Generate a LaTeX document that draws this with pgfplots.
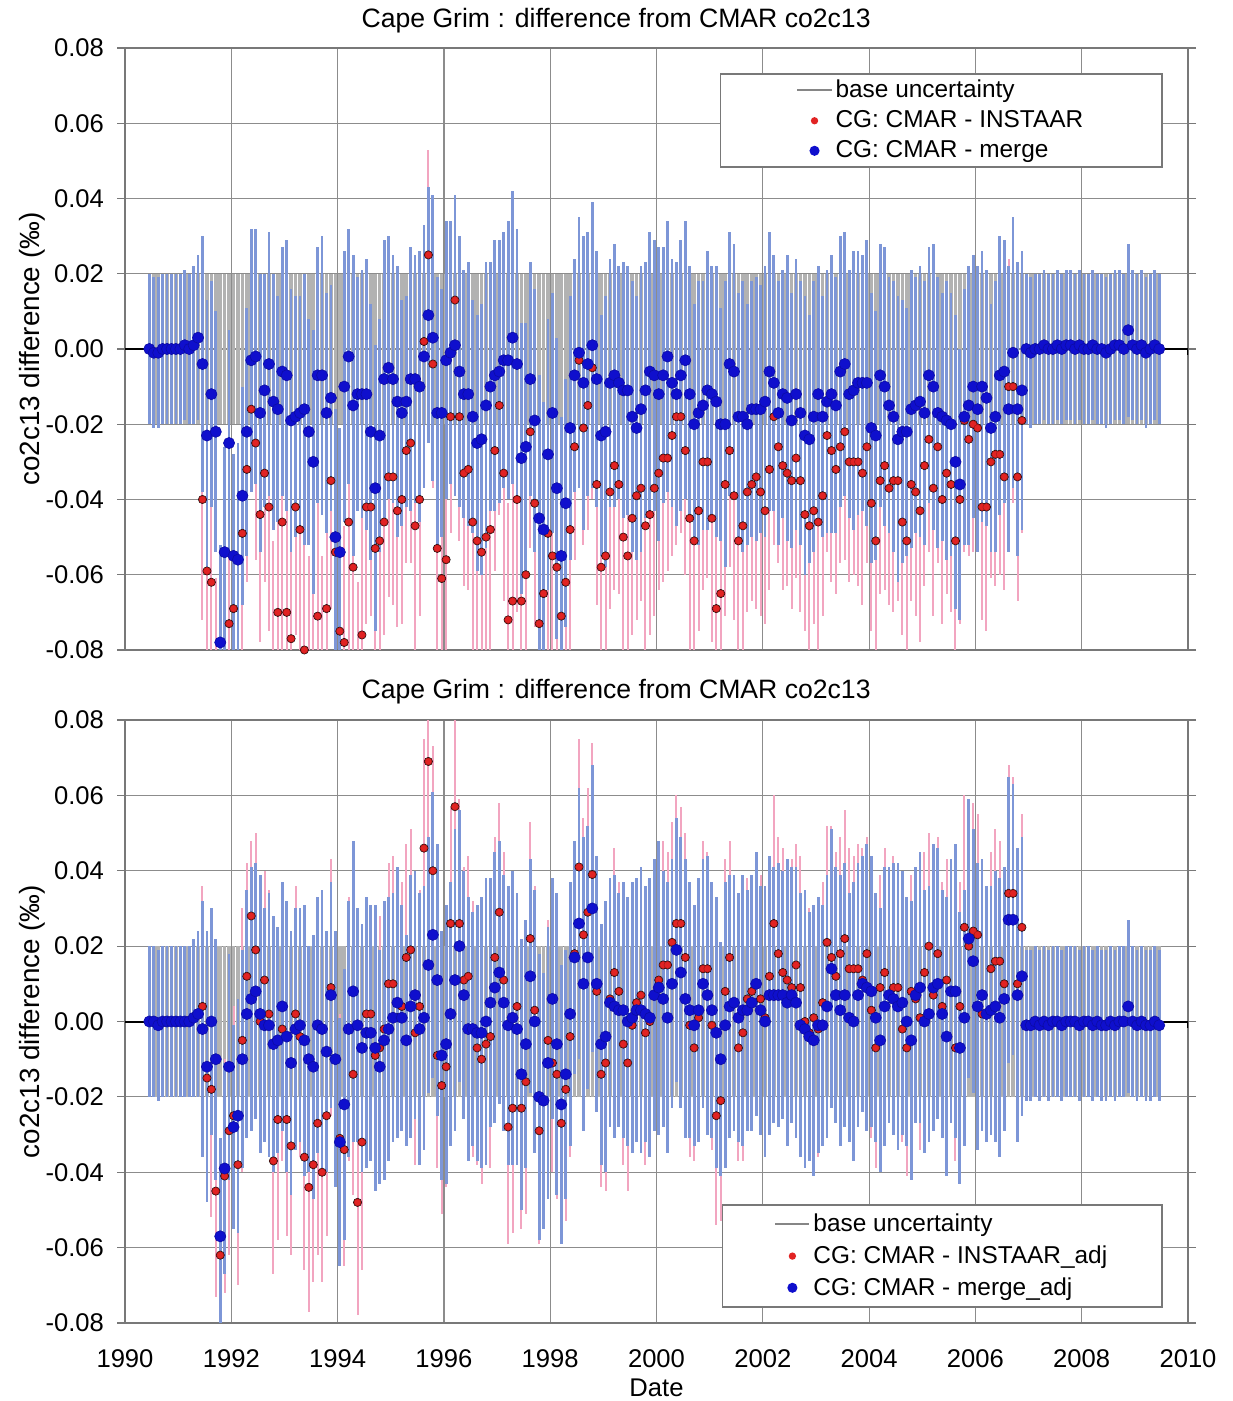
\documentclass[border=0pt]{standalone}
\usepackage{fontspec}
\setmainfont{Liberation Sans}
\usepackage{pgfplots}
\usepackage{pgfplotstable}
\pgfplotsset{compat=1.18}

\definecolor{basegray}{RGB}{178,178,178}
\definecolor{bluebar}{RGB}{125,150,215}
\definecolor{pinkbar}{RGB}{242,165,192}
\definecolor{bluemark}{RGB}{15,15,205}
\definecolor{redmark}{RGB}{225,35,35}
\definecolor{gridgray}{RGB}{140,140,140}
\definecolor{framegray}{RGB}{120,120,120}

\newcommand\tf{\fontsize{12.8}{15}\selectfont}
\newcommand\ttf{\fontsize{13.3}{15}\selectfont}
\newcommand\yf{\fontsize{13.9}{16}\selectfont}
\newcommand\lf{\fontsize{12.2}{14}\selectfont}

\pgfplotstableread{
x u d b1 r1 b2 r2 eb er
1990.458 0.02 -0.02 0.000 nan 0.000 nan 0.020 0
1990.542 0.02 -0.02 -0.001 nan 0.000 nan 0.020 0
1990.625 0.02 -0.02 -0.001 nan -0.001 nan 0.020 0
1990.708 0.02 -0.02 0.000 nan 0.000 nan 0.020 0
1990.792 0.02 -0.02 0.000 nan 0.000 nan 0.020 0
1990.875 0.02 -0.02 0.000 nan 0.000 nan 0.020 0
1990.958 0.02 -0.02 0.000 nan 0.000 nan 0.020 0
1991.042 0.02 -0.02 0.000 nan 0.000 nan 0.020 0
1991.125 0.02 -0.02 0.001 nan 0.000 nan 0.020 0
1991.208 0.02 -0.02 0.000 nan 0.000 nan 0.020 0
1991.292 0.02 -0.02 0.001 nan 0.001 nan 0.021 0
1991.375 0.02 -0.02 0.003 nan 0.002 nan 0.022 0
1991.458 0.02 -0.02 -0.004 -0.040 -0.002 0.004 0.034 0.032
1991.542 0.02 -0.02 -0.023 -0.059 -0.012 -0.015 0.036 0.030
1991.625 0.02 -0.02 -0.012 -0.062 0.000 -0.018 0.030 0.034
1991.708 0.02 -0.02 -0.022 -0.089 -0.010 -0.045 0.032 0.028
1991.792 0.02 -0.02 -0.078 -0.106 -0.057 -0.062 0.026 0.030
1991.875 0.02 -0.02 -0.054 -0.085 -0.039 -0.041 0.028 0.031
1991.958 0.02 -0.02 -0.025 -0.073 -0.012 -0.029 0.030 0.033
1992.042 0.02 -0.02 -0.055 -0.069 -0.028 -0.025 0.027 0.029
1992.125 0.02 -0.02 -0.056 -0.082 -0.025 -0.038 0.031 0.032
1992.208 0.02 -0.02 -0.039 -0.049 -0.010 -0.005 0.029 0.035
1992.292 0.02 -0.02 -0.022 -0.032 0.002 0.012 0.033 0.030
1992.375 0.02 -0.02 -0.003 -0.016 0.006 0.028 0.035 0.020
1992.458 0.02 -0.02 -0.002 -0.025 0.008 0.019 0.034 0.031
1992.542 0.02 -0.02 -0.017 -0.044 0.002 0.000 0.037 0.034
1992.625 0.02 -0.02 -0.011 -0.033 -0.001 0.011 0.031 0.029
1992.708 0.02 -0.02 -0.004 -0.042 -0.001 0.002 0.035 0.033
1992.792 0.02 -0.02 -0.014 -0.081 -0.006 -0.037 0.034 0.030
1992.875 0.02 -0.02 -0.016 -0.070 -0.005 -0.026 0.030 0.032
1992.958 0.02 -0.02 -0.006 -0.046 0.004 -0.002 0.033 0.035
1993.042 0.02 -0.02 -0.007 -0.070 -0.004 -0.026 0.036 0.031
1993.125 0.02 -0.02 -0.019 -0.077 -0.011 -0.033 0.035 0.029
1993.208 0.02 -0.02 -0.018 -0.042 -0.002 0.002 0.032 0.034
1993.292 0.02 -0.02 -0.017 -0.048 -0.001 -0.004 0.031 0.032
1993.375 0.02 -0.02 -0.016 -0.080 -0.005 -0.036 0.036 0.030
1993.458 0.02 -0.02 -0.022 -0.088 -0.010 -0.044 0.030 0.033
1993.542 0.02 -0.02 -0.030 -0.082 -0.012 -0.038 0.035 0.031
1993.625 0.02 -0.02 -0.007 -0.071 -0.001 -0.027 0.034 0.035
1993.708 0.02 -0.02 -0.007 -0.084 -0.002 -0.040 0.037 0.029
1993.792 0.02 -0.02 -0.017 -0.069 -0.008 -0.025 0.032 0.032
1993.875 0.02 -0.02 -0.013 -0.035 0.007 0.009 0.030 0.034
1993.958 0.02 -0.02 -0.050 -0.054 -0.010 -0.010 0.034 0.030
1994.042 0.02 -0.02 -0.054 -0.075 -0.032 -0.031 0.033 0.033
1994.125 0.02 -0.02 -0.010 -0.078 -0.022 -0.034 0.036 0.031
1994.208 0.02 -0.02 -0.002 -0.046 -0.002 -0.002 0.034 0.035
1994.292 0.02 -0.02 -0.015 -0.058 0.008 -0.014 0.040 0.032
1994.375 0.02 -0.02 -0.012 -0.092 -0.001 -0.048 0.031 0.030
1994.458 0.02 -0.02 -0.012 -0.076 -0.007 -0.032 0.033 0.034
1994.542 0.02 -0.02 -0.012 -0.042 -0.003 0.002 0.036 0.031
1994.625 0.02 -0.02 -0.022 -0.042 -0.003 0.002 0.034 0.029
1994.708 0.02 -0.02 -0.037 -0.053 -0.007 -0.009 0.038 0.033
1994.792 0.02 -0.02 -0.023 -0.051 -0.012 -0.007 0.031 0.035
1994.875 0.02 -0.02 -0.008 -0.046 -0.005 -0.002 0.037 0.030
1994.958 0.02 -0.02 -0.005 -0.034 -0.002 0.010 0.035 0.032
1995.042 0.02 -0.02 -0.008 -0.034 0.001 0.010 0.033 0.034
1995.125 0.02 -0.02 -0.014 -0.043 0.005 0.001 0.036 0.031
1995.208 0.02 -0.02 -0.017 -0.040 0.001 0.004 0.030 0.033
1995.292 0.02 -0.02 -0.014 -0.027 -0.005 0.017 0.028 0.030
1995.375 0.02 -0.02 -0.008 -0.025 0.004 0.019 0.035 0.032
1995.458 0.02 -0.02 -0.008 -0.047 0.007 -0.003 0.033 0.035
1995.542 0.02 -0.02 -0.010 -0.040 -0.002 0.004 0.036 0.031
1995.625 0.02 -0.02 -0.002 0.002 0.001 0.046 0.035 0.029
1995.708 0.02 -0.02 0.009 0.025 0.015 0.069 0.034 0.028
1995.792 0.02 -0.02 0.003 -0.004 0.023 0.040 0.038 0.033
1995.875 0.02 -0.02 -0.017 -0.053 0.011 -0.009 0.036 0.030
1995.958 0.02 -0.02 -0.017 -0.061 -0.009 -0.017 0.033 0.034
1996.042 0.02 -0.02 -0.003 -0.056 -0.006 -0.012 0.037 0.032
1996.125 0.02 -0.02 -0.001 -0.018 0.002 0.026 0.035 0.031
1996.208 0.02 -0.02 0.001 0.013 0.011 0.057 0.040 0.026
1996.292 0.02 -0.02 -0.006 -0.018 0.020 0.026 0.036 0.033
1996.375 0.02 -0.02 -0.012 -0.033 0.007 0.011 0.033 0.030
1996.458 0.02 -0.02 -0.012 -0.032 -0.002 0.012 0.035 0.032
1996.542 0.02 -0.02 -0.018 -0.046 -0.002 -0.002 0.031 0.034
1996.625 0.02 -0.02 -0.025 -0.051 -0.003 -0.007 0.034 0.031
1996.708 0.02 -0.02 -0.024 -0.054 -0.003 -0.010 0.036 0.033
1996.792 0.02 -0.02 -0.015 -0.050 0.000 -0.006 0.038 0.030
1996.875 0.02 -0.02 -0.010 -0.048 0.005 -0.004 0.033 0.035
1996.958 0.02 -0.02 -0.007 -0.027 0.009 0.017 0.036 0.032
1997.042 0.02 -0.02 -0.006 -0.015 0.013 0.029 0.035 0.029
1997.125 0.02 -0.02 -0.003 -0.033 0.005 0.011 0.034 0.034
1997.208 0.02 -0.02 -0.003 -0.072 -0.001 -0.028 0.037 0.031
1997.292 0.02 -0.02 0.003 -0.067 0.001 -0.023 0.039 0.033
1997.375 0.02 -0.02 -0.004 -0.040 -0.002 0.004 0.036 0.030
1997.458 0.02 -0.02 -0.029 -0.067 -0.014 -0.023 0.036 0.032
1997.542 0.02 -0.02 -0.026 -0.060 -0.006 -0.016 0.033 0.035
1997.625 0.02 -0.02 -0.008 -0.022 0.012 0.022 0.031 0.031
1997.708 0.02 -0.02 -0.019 -0.041 0.000 0.003 0.035 0.033
1997.792 0.02 -0.02 -0.045 -0.073 -0.020 -0.029 0.038 0.030
1997.875 0.02 -0.02 -0.048 -0.065 -0.021 -0.021 0.034 0.034
1997.958 0.02 -0.02 -0.028 -0.049 -0.011 -0.005 0.036 0.032
1998.042 0.02 -0.02 -0.017 -0.055 0.006 -0.011 0.032 0.029
1998.125 0.02 -0.02 -0.037 -0.058 -0.006 -0.014 0.040 0.033
1998.208 0.02 -0.02 -0.055 -0.071 -0.022 -0.027 0.037 0.031
1998.292 0.02 -0.02 -0.041 -0.062 -0.014 -0.018 0.033 0.035
1998.375 0.02 -0.02 -0.021 -0.048 0.002 -0.004 0.035 0.032
1998.458 0.02 -0.02 -0.007 -0.026 0.017 0.018 0.031 0.030
1998.542 0.02 -0.02 -0.001 -0.003 0.026 0.041 0.036 0.034
1998.625 0.02 -0.02 -0.009 -0.021 0.010 0.023 0.039 0.031
1998.708 0.02 -0.02 -0.004 -0.015 0.017 0.029 0.035 0.033
1998.792 0.02 -0.02 0.001 -0.005 0.030 0.039 0.038 0.035
1998.875 0.02 -0.02 -0.008 -0.036 0.010 0.008 0.034 0.032
1998.958 0.02 -0.02 -0.023 -0.058 -0.006 -0.014 0.032 0.030
1999.042 0.02 -0.02 -0.022 -0.055 -0.004 -0.011 0.036 0.034
1999.125 0.02 -0.02 -0.009 -0.038 0.005 0.006 0.033 0.031
1999.208 0.02 -0.02 -0.007 -0.031 0.004 0.013 0.035 0.033
1999.292 0.02 -0.02 -0.009 -0.036 0.003 0.008 0.031 0.029
1999.375 0.02 -0.02 -0.011 -0.050 0.003 -0.006 0.034 0.032
1999.458 0.02 -0.02 -0.011 -0.055 0.000 -0.011 0.033 0.034
1999.542 0.02 -0.02 -0.018 -0.045 0.001 -0.001 0.036 0.031
1999.625 0.02 -0.02 -0.021 -0.039 0.003 0.005 0.035 0.033
1999.708 0.02 -0.02 -0.016 -0.037 0.003 0.007 0.038 0.030
1999.792 0.02 -0.02 -0.011 -0.047 0.002 -0.003 0.034 0.035
1999.875 0.02 -0.02 -0.006 -0.044 0.001 0.000 0.037 0.032
1999.958 0.02 -0.02 -0.007 -0.037 0.007 0.007 0.036 0.034
2000.042 0.02 -0.02 -0.012 -0.033 0.009 0.011 0.039 0.031
2000.125 0.02 -0.02 -0.007 -0.029 0.006 0.015 0.034 0.033
2000.208 0.02 -0.02 -0.002 -0.029 0.001 0.015 0.036 0.030
2000.292 0.02 -0.02 -0.009 -0.023 0.010 0.021 0.033 0.032
2000.375 0.02 -0.02 -0.012 -0.018 0.019 0.026 0.035 0.034
2000.458 0.02 -0.02 -0.007 -0.018 0.013 0.026 0.036 0.031
2000.542 0.02 -0.02 -0.003 -0.027 0.006 0.017 0.037 0.033
2000.625 0.02 -0.02 -0.012 -0.045 0.003 -0.001 0.034 0.035
2000.708 0.02 -0.02 -0.020 -0.051 -0.001 -0.007 0.032 0.030
2000.792 0.02 -0.02 -0.017 -0.043 0.003 0.001 0.035 0.032
2000.875 0.02 -0.02 -0.015 -0.030 0.010 0.014 0.033 0.034
2000.958 0.02 -0.02 -0.011 -0.030 0.007 0.014 0.037 0.031
2001.042 0.02 -0.02 -0.012 -0.045 0.003 -0.001 0.034 0.033
2001.125 0.02 -0.02 -0.014 -0.069 -0.003 -0.025 0.036 0.029
2001.208 0.02 -0.02 -0.020 -0.065 -0.010 -0.021 0.031 0.032
2001.292 0.02 -0.02 -0.020 -0.036 -0.001 0.008 0.038 0.035
2001.375 0.02 -0.02 -0.004 -0.027 0.004 0.017 0.035 0.031
2001.458 0.02 -0.02 -0.006 -0.039 0.005 0.005 0.034 0.033
2001.542 0.02 -0.02 -0.018 -0.051 0.001 -0.007 0.033 0.030
2001.625 0.02 -0.02 -0.018 -0.047 0.003 -0.003 0.036 0.034
2001.708 0.02 -0.02 -0.020 -0.038 0.003 0.006 0.032 0.032
2001.792 0.02 -0.02 -0.016 -0.036 0.005 0.008 0.034 0.031
2001.875 0.02 -0.02 -0.016 -0.034 0.010 0.010 0.035 0.035
2001.958 0.02 -0.02 -0.016 -0.038 0.003 0.006 0.033 0.033
2002.042 0.02 -0.02 -0.014 -0.043 0.000 0.001 0.036 0.030
2002.125 0.02 -0.02 -0.006 -0.032 0.007 0.012 0.037 0.032
2002.208 0.02 -0.02 -0.009 -0.018 0.007 0.026 0.034 0.034
2002.292 0.02 -0.02 -0.017 -0.026 0.007 0.018 0.035 0.031
2002.375 0.02 -0.02 -0.012 -0.031 0.007 0.013 0.033 0.033
2002.458 0.02 -0.02 -0.013 -0.033 0.005 0.011 0.038 0.030
2002.542 0.02 -0.02 -0.019 -0.035 0.007 0.009 0.034 0.034
2002.625 0.02 -0.02 -0.012 -0.029 0.005 0.015 0.036 0.032
2002.708 0.02 -0.02 -0.017 -0.035 -0.001 0.009 0.035 0.035
2002.792 0.02 -0.02 -0.023 -0.044 -0.002 0.000 0.037 0.031
2002.875 0.02 -0.02 -0.024 -0.047 -0.004 -0.003 0.033 0.033
2002.958 0.02 -0.02 -0.018 -0.043 -0.005 0.001 0.036 0.030
2003.042 0.02 -0.02 -0.012 -0.046 -0.001 -0.002 0.034 0.034
2003.125 0.02 -0.02 -0.018 -0.039 -0.001 0.005 0.032 0.032
2003.208 0.02 -0.02 -0.014 -0.023 0.004 0.021 0.035 0.031
2003.292 0.02 -0.02 -0.012 -0.027 0.014 0.017 0.037 0.035
2003.375 0.02 -0.02 -0.015 -0.032 0.007 0.012 0.034 0.033
2003.458 0.02 -0.02 -0.006 -0.026 0.003 0.018 0.036 0.031
2003.542 0.02 -0.02 -0.004 -0.022 0.007 0.022 0.035 0.034
2003.625 0.02 -0.02 -0.012 -0.030 0.001 0.014 0.033 0.032
2003.708 0.02 -0.02 -0.011 -0.030 0.000 0.014 0.037 0.030
2003.792 0.02 -0.02 -0.009 -0.030 0.007 0.014 0.035 0.033
2003.875 0.02 -0.02 -0.009 -0.033 0.010 0.011 0.034 0.035
2003.958 0.02 -0.02 -0.009 -0.026 0.009 0.018 0.038 0.031
2004.042 0.02 -0.02 -0.021 -0.041 0.008 0.003 0.036 0.034
2004.125 0.02 -0.02 -0.023 -0.051 0.001 -0.007 0.033 0.032
2004.208 0.02 -0.02 -0.007 -0.035 -0.005 0.009 0.035 0.030
2004.292 0.02 -0.02 -0.010 -0.031 0.004 0.013 0.037 0.033
2004.375 0.02 -0.02 -0.015 -0.037 0.007 0.007 0.034 0.031
2004.458 0.02 -0.02 -0.018 -0.035 0.006 0.009 0.036 0.035
2004.542 0.02 -0.02 -0.024 -0.035 0.004 0.009 0.038 0.032
2004.625 0.02 -0.02 -0.022 -0.046 0.005 -0.002 0.035 0.030
2004.708 0.02 -0.02 -0.022 -0.051 0.000 -0.007 0.033 0.034
2004.792 0.02 -0.02 -0.016 -0.036 -0.005 0.008 0.037 0.031
2004.875 0.02 -0.02 -0.015 -0.038 0.007 0.006 0.034 0.033
2004.958 0.02 -0.02 -0.014 -0.043 0.009 0.001 0.036 0.035
2005.042 0.02 -0.02 -0.017 -0.031 0.000 0.013 0.035 0.032
2005.125 0.02 -0.02 -0.007 -0.024 0.002 0.020 0.034 0.030
2005.208 0.02 -0.02 -0.010 -0.037 0.009 0.007 0.038 0.034
2005.292 0.02 -0.02 -0.017 -0.026 0.010 0.018 0.036 0.031
2005.375 0.02 -0.02 -0.018 -0.040 0.002 0.004 0.033 0.033
2005.458 0.02 -0.02 -0.019 -0.033 -0.004 0.011 0.037 0.032
2005.542 0.02 -0.02 -0.020 -0.036 0.008 0.008 0.035 0.034
2005.625 0.02 -0.02 -0.030 -0.051 0.008 -0.007 0.039 0.030
2005.708 0.02 -0.02 -0.036 -0.040 -0.007 0.004 0.036 0.033
2005.792 0.02 -0.02 -0.018 -0.019 0.001 0.025 0.034 0.035
2005.875 0.02 -0.02 -0.015 -0.024 0.022 0.020 0.037 0.031
2005.958 0.02 -0.02 -0.010 -0.020 0.016 0.024 0.035 0.034
2006.042 0.02 -0.02 -0.016 -0.021 0.004 0.023 0.038 0.032
2006.125 0.02 -0.02 -0.010 -0.042 0.007 0.002 0.036 0.030
2006.208 0.02 -0.02 -0.013 -0.042 0.002 0.002 0.034 0.033
2006.292 0.02 -0.02 -0.021 -0.030 0.003 0.014 0.033 0.031
2006.375 0.02 -0.02 -0.018 -0.028 0.004 0.016 0.036 0.035
2006.458 0.02 -0.02 -0.007 -0.028 0.001 0.016 0.037 0.032
2006.542 0.02 -0.02 -0.006 -0.034 0.006 0.010 0.035 0.030
2006.625 0.02 -0.02 -0.016 -0.010 0.027 0.034 0.038 0.034
2006.708 0.02 -0.02 -0.001 -0.010 0.027 0.034 0.036 0.031
2006.792 0.02 -0.02 -0.016 -0.034 0.007 0.010 0.039 0.033
2006.875 0.02 -0.02 -0.011 -0.019 0.012 0.025 0.037 0.030
2006.958 0.02 -0.02 0.000 nan -0.001 nan 0.020 0
2007.042 0.02 -0.02 -0.001 nan -0.001 nan 0.020 0
2007.125 0.02 -0.02 0.000 nan 0.000 nan 0.020 0
2007.208 0.02 -0.02 0.000 nan -0.001 nan 0.020 0
2007.292 0.02 -0.02 0.001 nan 0.000 nan 0.020 0
2007.375 0.02 -0.02 0.000 nan -0.001 nan 0.020 0
2007.458 0.02 -0.02 0.000 nan 0.000 nan 0.020 0
2007.542 0.02 -0.02 0.001 nan 0.000 nan 0.020 0
2007.625 0.02 -0.02 0.000 nan -0.001 nan 0.020 0
2007.708 0.02 -0.02 0.001 nan 0.000 nan 0.020 0
2007.792 0.02 -0.02 0.001 nan 0.000 nan 0.020 0
2007.875 0.02 -0.02 0.000 nan 0.000 nan 0.020 0
2007.958 0.02 -0.02 0.001 nan -0.001 nan 0.020 0
2008.042 0.02 -0.02 0.000 nan 0.000 nan 0.020 0
2008.125 0.02 -0.02 0.000 nan 0.000 nan 0.020 0
2008.208 0.02 -0.02 0.001 nan -0.001 nan 0.020 0
2008.292 0.02 -0.02 0.000 nan 0.000 nan 0.020 0
2008.375 0.02 -0.02 0.000 nan -0.001 nan 0.020 0
2008.458 0.02 -0.02 -0.001 nan -0.001 nan 0.020 0
2008.542 0.02 -0.02 0.000 nan 0.000 nan 0.020 0
2008.625 0.02 -0.02 0.001 nan -0.001 nan 0.020 0
2008.708 0.02 -0.02 0.001 nan 0.000 nan 0.020 0
2008.792 0.02 -0.02 0.000 nan 0.000 nan 0.020 0
2008.875 0.02 -0.02 0.005 nan 0.004 nan 0.023 0
2008.958 0.02 -0.02 0.001 nan 0.000 nan 0.020 0
2009.042 0.02 -0.02 0.000 nan -0.001 nan 0.020 0
2009.125 0.02 -0.02 0.001 nan 0.000 nan 0.020 0
2009.208 0.02 -0.02 -0.001 nan -0.001 nan 0.020 0
2009.292 0.02 -0.02 0.000 nan -0.001 nan 0.020 0
2009.375 0.02 -0.02 0.001 nan 0.000 nan 0.020 0
2009.458 0.02 -0.02 0.000 nan -0.001 nan 0.020 0
}\cg

\pgfplotsset{
  cgaxis/.style={
    scale only axis, width=531.5pt,
    xmin=1990, xmax=2010, ymin=-0.08, ymax=0.08,
    xtick={1990,1992,1994,1996,1998,2000,2002,2004,2006,2008,2010},
    ytick={-0.08,-0.06,-0.04,-0.02,0,0.02,0.04,0.06,0.08},
    scaled y ticks=false, scaled x ticks=false,
    grid=major, major grid style={gridgray, line width=0.6pt},
    axis line style={framegray, line width=0.9pt},
    tick align=outside, major tick length=4pt,
    xtick style={draw=none}, ytick style={framegray, line width=0.6pt},
    /pgf/number format/assume math mode=true,
    yticklabel style={/pgf/number format/fixed, /pgf/number format/fixed zerofill, /pgf/number format/precision=2, xshift=-3pt},
    xticklabel style={/pgf/number format/1000 sep={}},
    tick label style={font=\tf},
    label style={font=\tf},
    title style={font=\ttf, anchor=center},
    ylabel={co2c13 difference (‰)},
    ylabel style={font=\yf, at={(axis description cs:-0.0875,0.5)}, anchor=center},
    legend cell align=left,
    legend style={draw=framegray, line width=0.8pt, fill=white, font=\lf, row sep=2pt, nodes={inner sep=1.5pt}},
  },
  basebars/.style={forget plot, ycomb, mark=none, draw=basegray, line width=1.8pt},
  pinkbars/.style={forget plot, only marks, mark=none,
    error bars/.cd, y dir=both, y explicit, error mark=none,
    error bar style={draw=pinkbar, line width=1.0pt}},
  bluebars/.style={forget plot, only marks, mark=none,
    error bars/.cd, y dir=both, y explicit, error mark=none,
    error bar style={draw=bluebar, line width=1.4pt}},
  redmarks/.style={forget plot, only marks, mark=*, mark size=1.8pt,
    mark options={fill=redmark, draw=redmark!75!black, line width=0.3pt}},
  bluemarks/.style={forget plot, only marks, mark=*, mark size=2.8pt,
    mark options={fill=bluemark, draw=bluemark!80!black, line width=0.3pt}},
}

\begin{document}
\begin{tikzpicture}
\useasboundingbox (0,0) rectangle (616pt,700.5pt);
% ---------- top panel ----------
\begin{axis}[cgaxis, at={(62.5pt,375.5pt)}, anchor=south west, height=301pt,
  xticklabels={},
  title={Cape Grim : difference from CMAR co2c13},
  title style={at={(axis description cs:0.462,1.025)}},
  legend style={at={(axis description cs:0.9765,0.958)}, anchor=north east, inner xsep=38pt, inner ysep=1.5pt}]
\draw[black, line width=1pt] (axis cs:1990,0) -- (axis cs:1990.45,0);
\draw[black, line width=1pt] (axis cs:2009.46,0) -- (axis cs:2010,0) -- ++(0pt,-3pt);
\addplot[basebars] table[x=x, y=u] {\cg};
\addplot[basebars] table[x=x, y=d] {\cg};
\addplot[pinkbars] table[x=x, y=r1, y error=er] {\cg};
\addplot[bluebars] table[x=x, y=b1, y error=eb] {\cg};
\addplot[redmarks] table[x=x, y=r1] {\cg};
\addplot[bluemarks] table[x=x, y=b1] {\cg};
\addlegendimage{basegray!75!black, line width=1pt}
\addlegendentry{base uncertainty}
\addlegendimage{only marks, mark=*, mark size=1.4pt, mark options={fill=redmark, draw=redmark}}
\addlegendentry{CG: CMAR - INSTAAR}
\addlegendimage{only marks, mark=*, mark size=2.1pt, mark options={fill=bluemark, draw=bluemark}}
\addlegendentry{CG: CMAR - merge}
\end{axis}
% ---------- bottom panel ----------
\begin{axis}[cgaxis, at={(62.5pt,39pt)}, anchor=south west, height=301.5pt,
  xticklabel style={yshift=-6pt},
  xlabel={Date},
  xlabel style={at={(axis description cs:0.5,-0.108)}, anchor=center},
  title={Cape Grim : difference from CMAR co2c13},
  title style={at={(axis description cs:0.462,1.0264)}},
  legend style={at={(axis description cs:0.9765,0.025)}, anchor=south east, inner xsep=26pt, inner ysep=3pt, row sep=2.5pt}]
\draw[black, line width=1pt] (axis cs:1990,0) -- (axis cs:1990.45,0);
\draw[black, line width=1pt] (axis cs:2009.46,0) -- (axis cs:2010,0) -- ++(0pt,-3pt);
\addplot[basebars] table[x=x, y=u] {\cg};
\addplot[basebars] table[x=x, y=d] {\cg};
\addplot[pinkbars] table[x=x, y=r2, y error=er] {\cg};
\addplot[bluebars] table[x=x, y=b2, y error=eb] {\cg};
\addplot[redmarks] table[x=x, y=r2] {\cg};
\addplot[bluemarks] table[x=x, y=b2] {\cg};
\addlegendimage{basegray!75!black, line width=1pt}
\addlegendentry{base uncertainty}
\addlegendimage{only marks, mark=*, mark size=1.4pt, mark options={fill=redmark, draw=redmark}}
\addlegendentry{CG: CMAR - INSTAAR\_adj}
\addlegendimage{only marks, mark=*, mark size=2.1pt, mark options={fill=bluemark, draw=bluemark}}
\addlegendentry{CG: CMAR - merge\_adj}
\end{axis}
\end{tikzpicture}
\end{document}
